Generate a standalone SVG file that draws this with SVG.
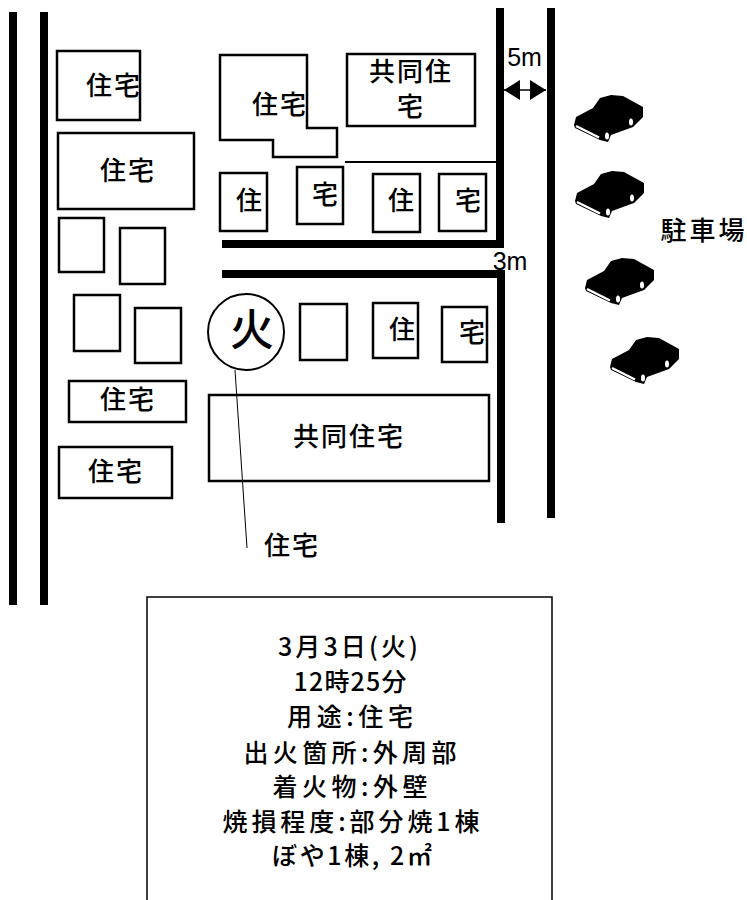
<svg xmlns="http://www.w3.org/2000/svg" width="747" height="900" viewBox="0 0 747 900">
<style>
text{font-family:"Noto Sans CJK JP","Liberation Sans",sans-serif;fill:#000;text-anchor:middle;font-weight:500}
.l{font-size:26px;letter-spacing:2px}
.i{font-size:25px}
.b{fill:#fff;stroke:#000;stroke-width:2.5}
.r{fill:none;stroke:#000;stroke-width:8}
.t{fill:none;stroke:#000;stroke-width:2}
.n{font-family:"Liberation Sans",sans-serif;font-size:25px;font-weight:400}
</style>
<defs>
<g id="car">
<path d="M0 30L2 22L19 13L26 3L37 0L49 1L69 12V22L59 32L37 40L34 47L26 45L1 33Z" fill="#000"/>
<path d="M2 31L25 42.500" stroke="#fff" stroke-width="2.500" fill="none"/>
<ellipse cx="33" cy="41" rx="2" ry="3.500" fill="#fff"/>
<ellipse cx="57" cy="27" rx="2" ry="3.500" fill="#fff"/>
</g>
<marker id="ah" markerWidth="17" markerHeight="20" refX="16" refY="10" orient="auto-start-reverse" markerUnits="userSpaceOnUse"><path d="M0 0L16 10L0 20Z" fill="#000"/></marker>
</defs>
<g id="house-1"><rect class="b" x="57" y="51" width="83" height="69"/><text class="l" x="114" y="95">住宅</text></g>
<g id="house-2"><rect class="b" x="58" y="133" width="136" height="76"/><text class="l" x="128" y="180">住宅</text></g>
<g id="e1"><rect class="b" x="59" y="218" width="45" height="54"/></g>
<g id="e2"><rect class="b" x="120" y="228" width="45" height="56"/></g>
<g id="e3"><rect class="b" x="74" y="295" width="46" height="56"/></g>
<g id="e4"><rect class="b" x="135" y="308" width="46" height="55"/></g>
<g id="house-3"><rect class="b" x="69" y="381" width="117" height="41"/><text class="l" x="128" y="409">住宅</text></g>
<g id="house-4"><rect class="b" x="59" y="447" width="113" height="51"/><text class="l" x="116" y="481">住宅</text></g>
<g id="house-5"><path class="b" d="M220 55H307V128H337V157H273V140H220Z"/><text class="l" x="280" y="114">住宅</text></g>
<g id="apt-1"><rect class="b" x="347" y="54" width="128" height="72"/><text class="l" x="411" y="81">共同住</text><text class="l" x="411" y="116">宅</text></g>
<g id="h6"><rect class="b" x="220" y="173" width="47" height="58"/><text class="l" x="250" y="210">住</text></g>
<g id="h7"><rect class="b" x="297" y="167" width="46" height="57"/><text class="l" x="326" y="204">宅</text></g>
<g id="h8"><rect class="b" x="373" y="174" width="47" height="58"/><text class="l" x="402" y="210">住</text></g>
<g id="h9"><rect class="b" x="439" y="174" width="47" height="57"/><text class="l" x="469" y="210">宅</text></g>
<g id="e5"><rect class="b" x="300" y="304" width="47" height="56"/></g>
<g id="h10"><rect class="b" x="373" y="303" width="45" height="55"/><text class="l" x="403" y="339">住</text></g>
<g id="h11"><rect class="b" x="442" y="307" width="45" height="55"/><text class="l" x="473" y="342">宅</text></g>
<g id="fire"><circle cx="246" cy="332" r="38" fill="#fff" stroke="#000" stroke-width="2"/><text x="252" y="346" font-size="44" font-weight="900">火</text></g>
<g id="apt-2"><rect class="b" x="209" y="395" width="280" height="86"/><text class="l" x="349" y="446">共同住宅</text></g>
<text class="l" x="292" y="555">住宅</text>
<g id="cars">
<use href="#car" x="574" y="95"/>
<use href="#car" x="575" y="171"/>
<use href="#car" x="585" y="258"/>
<use href="#car" x="610" y="337"/>
</g>
<text x="704" y="240" font-size="26" letter-spacing="3" font-weight="700">駐車場</text>
<text class="n" x="524.500" y="66">5m</text>
<text class="n" x="510" y="270">3m</text>
<g id="info"><rect x="147" y="597" width="405" height="320" fill="#fff" stroke="#000" stroke-width="1.500"/>
<text class="i" x="348" y="656" textLength="140">3月3日(火)</text>
<text class="i" x="350" y="691" textLength="113">12時25分</text>
<text class="i" x="350" y="726" textLength="126">用途:住宅</text>
<text class="i" x="350" y="762" textLength="213">出火箇所:外周部</text>
<text class="i" x="350" y="796" textLength="155">着火物:外壁</text>
<text class="i" x="351" y="831" textLength="257">焼損程度:部分焼1棟</text>
<text class="i" x="352" y="865" textLength="160">ぼや1棟, 2㎡</text>
</g>
<g id="connectors">
<path class="r" d="M13 12V605M44 12V605"/>
<path class="r" d="M222 244H500V8M222 274H501V523M551 8V518"/>
<path class="t" d="M345 162H497"/>
<path d="M235 370L247 548" stroke="#000" stroke-width="1" fill="none"/>
<path d="M504 90H546" stroke="#000" stroke-width="1.500" fill="none" marker-start="url(#ah)" marker-end="url(#ah)"/>
</g>
</svg>
